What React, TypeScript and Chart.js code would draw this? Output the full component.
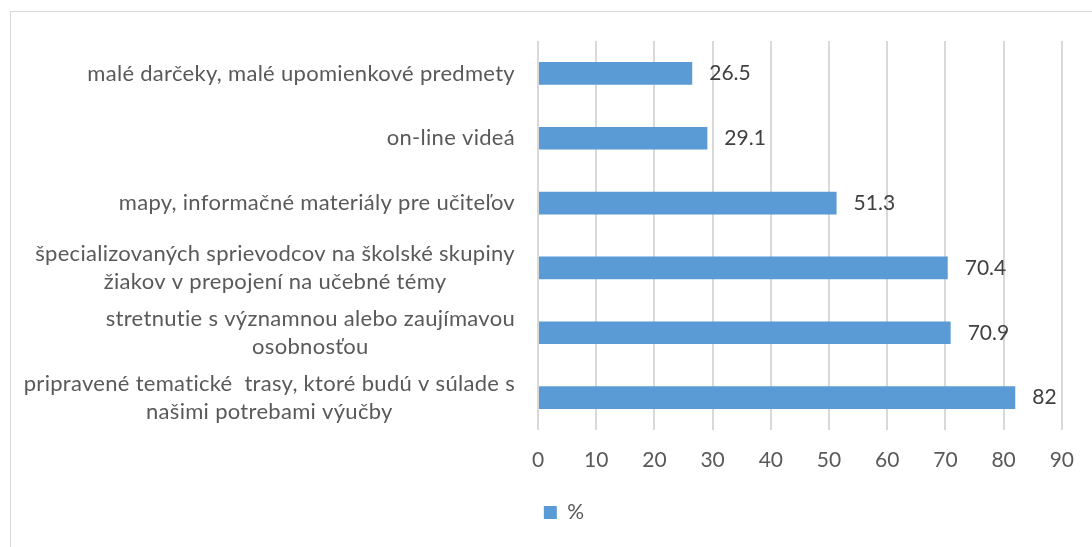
import React, { useEffect, useRef } from "react";
import { Chart, registerables } from "chart.js";

Chart.register(...registerables);

const categories: string[][] = [
  ["malé darčeky, malé upomienkové predmety"],
  ["on-line videá"],
  ["mapy, informačné materiály pre učiteľov"],
  ["špecializovaných sprievodcov na školské skupiny", "žiakov v prepojení na učebné témy"],
  ["stretnutie s významnou alebo zaujímavou", "osobnosťou"],
  ["pripravené tematické  trasy, ktoré budú v súlade s", "našimi potrebami výučby"],
];
const seriesLabel = "%";
const values: number[] = [26.5, 29.1, 51.3, 70.4, 70.9, 82];
const xTicks: number[] = [0, 10, 20, 30, 40, 50, 60, 70, 80, 90];

const FONT = "Lato";
const FS = 21;
const CAT_FS = 22;
const BAR = "#5b9bd5";
const GRID = "#d9d9d9";
const TEXT = "#595959";

const framePlugin = {
  id: "frame",
  beforeDraw(chart: any) {
    const ctx = chart.ctx;
    ctx.save();
    ctx.strokeStyle = GRID;
    ctx.lineWidth = 1;
    ctx.strokeRect(10.5, 11.5, chart.width + 20, chart.height + 20);
    ctx.restore();
  },
};

const yLabelPlugin = {
  id: "yLabels",
  afterDraw(chart: any) {
    const ctx = chart.ctx;
    const y = chart.scales.y;
    const right = chart.chartArea.left - 23;
    const lh = 28;
    ctx.save();
    ctx.font = `${CAT_FS}px ${FONT}`;
    try {
      (ctx as any).letterSpacing = "0.3px";
    } catch (e) {}
    ctx.fillStyle = TEXT;
    ctx.textBaseline = "middle";
    ctx.textAlign = "center";
    categories.forEach((lines, i) => {
      const cy = y.getPixelForTick(i);
      const w = Math.max(...lines.map((l) => ctx.measureText(l).width));
      const cx = right - w / 2;
      const y0 = cy - ((lines.length - 1) * lh) / 2;
      lines.forEach((l, j) => ctx.fillText(l, cx, y0 + j * lh));
    });
    ctx.restore();
  },
};

const valueLabelPlugin = {
  id: "valueLabels",
  afterDatasetsDraw(chart: any) {
    const ctx = chart.ctx;
    const meta = chart.getDatasetMeta(0);
    ctx.save();
    ctx.font = `${FS}px ${FONT}`;
    ctx.fillStyle = "#404040";
    ctx.textBaseline = "middle";
    ctx.textAlign = "left";
    meta.data.forEach((el: any, i: number) => {
      ctx.fillText(String(values[i]), el.x + 17, el.y);
    });
    ctx.restore();
  },
};

export default function App() {
  const ref = useRef<HTMLCanvasElement | null>(null);
  useEffect(() => {
    if (!ref.current) return;
    const chart = new Chart(ref.current, {
      type: "bar",
      data: {
        labels: categories.map((c) => c.join(" ")),
        datasets: [
          {
            label: seriesLabel,
            data: values,
            backgroundColor: BAR,
            borderWidth: 0,
            categoryPercentage: 1,
            barPercentage: 0.35,
          },
        ],
      },
      options: {
        indexAxis: "y",
        animation: false,
        responsive: true,
        maintainAspectRatio: false,
        layout: { padding: { left: 63, right: 27, top: 41, bottom: 14 } },
        scales: {
          x: {
            min: 0,
            max: 90,
            afterBuildTicks: (scale: any) => {
              scale.ticks = xTicks.map((v) => ({ value: v }));
            },
            afterFit: (scale: any) => {
              scale.height = 62;
            },
            grid: { color: GRID, lineWidth: 2, drawTicks: false },
            border: { display: false },
            ticks: {
              padding: 18,
              color: TEXT,
              font: { family: FONT, size: FS },
              maxRotation: 0,
            },
          },
          y: {
            grid: { display: false },
            border: { display: false },
            ticks: { display: false },
            afterFit: (scale: any) => {
              scale.width = 538 - 63;
            },
          },
        },
        plugins: {
          legend: {
            position: "bottom",
            labels: {
              boxWidth: 13,
              boxHeight: 13,
              padding: 10,
              color: TEXT,
              font: { family: FONT, size: FS },
            },
          },
          tooltip: { enabled: false },
        },
      },
      plugins: [framePlugin, yLabelPlugin, valueLabelPlugin],
    });
    return () => chart.destroy();
  }, []);
  return (
    <div style={{ position: "fixed", left: 0, top: 0, width: 1092, height: 547, background: "#fff" }}>
      <canvas ref={ref} />
    </div>
  );
}
